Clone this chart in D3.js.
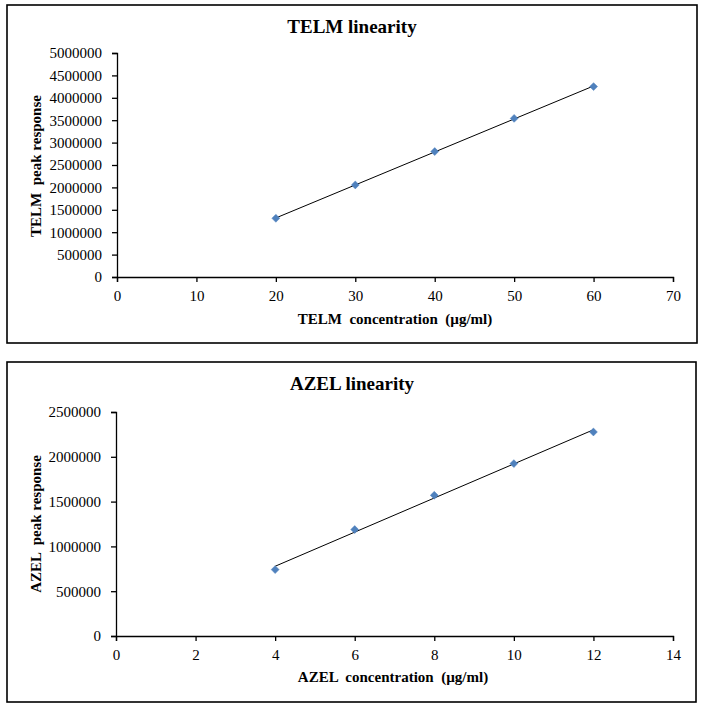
<!DOCTYPE html>
<html><head><meta charset="utf-8">
<script src="https://cdn.jsdelivr.net/npm/d3@7"></script>
<style>
html,body{margin:0;padding:0;background:#fff;}
svg{display:block;}
svg text{font-family:"Liberation Serif",Tinos,"Times New Roman",Times,"DejaVu Serif",serif;fill:#000;white-space:pre;}
</style></head>
<body>
<svg id="chart" width="706" height="713"></svg>
<script>
// TELM data
const telmConc = [20, 30, 40, 50, 60];
const telmResp = [1310000, 2055000, 2800000, 3540000, 4250000];
const telmXTicks = [0, 10, 20, 30, 40, 50, 60, 70];
const telmYTicks = [0, 500000, 1000000, 1500000, 2000000, 2500000, 3000000, 3500000, 4000000, 4500000, 5000000];
// AZEL data
const azelConc = [4, 6, 8, 10, 12];
const azelResp = [741000, 1188000, 1570000, 1924000, 2277000];
const azelXTicks = [0, 2, 4, 6, 8, 10, 12, 14];
const azelYTicks = [0, 500000, 1000000, 1500000, 2000000, 2500000];

const FONT = '"Liberation Serif", Tinos, "Times New Roman", Times, "DejaVu Serif", serif';
const svg = d3.select("#chart");

function panel(cfg) {
  const g = svg.append("g");
  g.append("rect").attr("x", cfg.box[0]).attr("y", cfg.box[1])
    .attr("width", cfg.box[2]).attr("height", cfg.box[3])
    .attr("fill", "#fff").attr("stroke", "#000").attr("stroke-width", 1.6);

  const x = d3.scaleLinear().domain([cfg.xTicks[0], cfg.xTicks[cfg.xTicks.length-1]]).range([cfg.plot.left, cfg.plot.right]);
  const y = d3.scaleLinear().domain([cfg.yTicks[0], cfg.yTicks[cfg.yTicks.length-1]]).range([cfg.plot.bottom, cfg.plot.top]);

  const xAxis = g.append("g").attr("transform", `translate(0,${cfg.plot.bottom})`)
    .call(d3.axisBottom(x).tickValues(cfg.xTicks).tickSize(5).tickPadding(cfg.xPad).tickFormat(d3.format("d")));
  const yAxis = g.append("g").attr("transform", `translate(${cfg.plot.left},0)`)
    .call(d3.axisLeft(y).tickValues(cfg.yTicks).tickSize(5).tickPadding(10).tickFormat(d3.format("d")));
  [xAxis, yAxis].forEach(a => {
    a.attr("font-family", FONT);
    a.selectAll("path").attr("stroke", "#000").attr("stroke-width", 1.3);
    a.selectAll("line").attr("stroke", "#000").attr("stroke-width", 1.3);
    a.selectAll("text").style("font-family", FONT).attr("font-size", 15).attr("fill", "#000");
  });

  // linear regression trendline from data
  const xs = cfg.xs, ys = cfg.ys;
  const mx = d3.mean(xs), my = d3.mean(ys);
  const slope = d3.sum(xs.map((v,i)=>(v-mx)*(ys[i]-my))) / d3.sum(xs.map(v=>(v-mx)*(v-mx)));
  const icpt = my - slope*mx;
  const x0 = d3.min(xs), x1 = d3.max(xs);
  g.append("line").attr("x1", x(x0)).attr("y1", y(icpt+slope*x0))
    .attr("x2", x(x1)).attr("y2", y(icpt+slope*x1))
    .attr("stroke", "#000").attr("stroke-width", 1);

  g.selectAll("path.pt").data(xs.map((v,i)=>[v, ys[i]])).enter().append("path")
    .attr("class", "pt")
    .attr("d", d3.symbol().type(d3.symbolDiamond2).size(40))
    .attr("transform", d => `translate(${x(d[0])},${y(d[1])})`)
    .attr("fill", "#4F81BD").attr("stroke", "#4F81BD").attr("stroke-width", 0.5);

  g.append("text").attr("x", cfg.title[1]).attr("y", cfg.title[2]).style("font-family", FONT)
    .attr("text-anchor", "middle").attr("font-size", 19).attr("font-weight", "bold").text(cfg.title[0]);
  g.append("text").attr("x", cfg.xLabel[1]).attr("y", cfg.xLabel[2]).style("font-family", FONT)
    .attr("text-anchor", "middle").attr("font-size", 15).attr("font-weight", "bold").text(cfg.xLabel[0]);
  g.append("text").attr("transform", `translate(${cfg.yLabel[1]},${cfg.yLabel[2]}) rotate(-90)`).style("font-family", FONT)
    .attr("text-anchor", "middle").attr("font-size", 15).attr("font-weight", "bold").text(cfg.yLabel[0]);
}

panel({
  box: [7, 5, 690, 338],
  plot: {left: 117, right: 673, top: 53, bottom: 277},
  xTicks: telmXTicks, yTicks: telmYTicks, xs: telmConc, ys: telmResp, xPad: 8,
  title: ["TELM linearity", 352, 33],
  xLabel: ["TELM  concentration  (µg/ml)", 395, 324],
  yLabel: ["TELM  peak response", 41, 166]
});
panel({
  box: [7, 362, 689, 340],
  plot: {left: 116, right: 673, top: 412, bottom: 636},
  xTicks: azelXTicks, yTicks: azelYTicks, xs: azelConc, ys: azelResp, xPad: 8,
  title: ["AZEL linearity", 352, 390],
  xLabel: ["AZEL  concentration  (µg/ml)", 393, 682],
  yLabel: ["AZEL  peak response", 41, 524]
});
</script>
</body></html>
